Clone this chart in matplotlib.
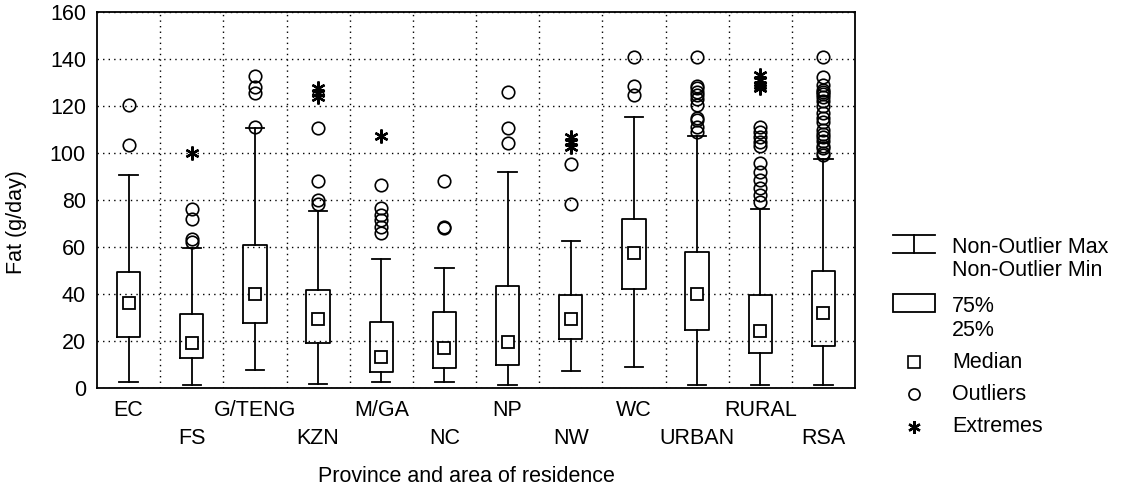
import numpy as np
import matplotlib
matplotlib.use('Agg')
import matplotlib.pyplot as plt
from matplotlib.patches import Rectangle
from matplotlib.lines import Line2D

plt.rcParams['font.family'] = ['Liberation Sans', 'DejaVu Sans']

# Fat intake (g/day) by province and area of residence
groups = ['EC', 'FS', 'G/TENG', 'KZN', 'M/GA', 'NC', 'NP', 'NW', 'WC', 'URBAN', 'RURAL', 'RSA']
whis_lo = [2.7, 1.3, 7.7, 1.7, 2.7, 2.7, 1.3, 7.2, 9.1, 1.3, 1.3, 1.3]
q1 = [21.8, 12.6, 27.8, 19.0, 6.9, 8.6, 9.8, 20.7, 42.0, 24.7, 14.8, 17.9]
median = [36.0, 19.0, 40.0, 29.2, 13.3, 16.9, 19.7, 29.2, 57.3, 40.0, 24.3, 32.0]
q3 = [49.2, 31.5, 60.9, 41.7, 28.0, 32.2, 43.5, 39.7, 71.8, 57.7, 39.7, 49.9]
whis_hi = [90.8, 59.4, 110.8, 75.3, 54.8, 50.9, 92.0, 62.7, 115.2, 107.2, 76.0, 97.3]

outliers = [
    [120.4, 103.3],
    [76.2, 71.8, 63.3, 62.3],
    [132.8, 128.0, 125.4, 111.1],
    [110.6, 88.1, 80.0, 78.3],
    [86.4, 76.5, 73.6, 71.5, 68.6, 66.1],
    [88.1, 68.6, 67.9],
    [126.1, 110.8, 104.4],
    [95.3, 78.3],
    [141.0, 128.5, 124.7],
    [141.0, 128.5, 127.5, 126.0, 124.5, 123.0, 120.5, 115.0, 114.0, 111.0, 109.0],
    [111.2, 109.1, 107.0, 104.5, 103.0, 95.6, 92.0, 88.5, 85.0, 82.1, 79.3],
    [141.0, 132.5, 129.0, 127.0, 126.0, 125.0, 124.0, 122.0, 120.0, 117.0,
     115.0, 113.0, 110.0, 108.0, 107.0, 105.0, 103.0, 102.0, 100.0, 99.0],
]
extremes = [
    [], [100.1], [], [127.5, 125.5, 124.0], [107.2], [], [], [107.0, 104.5, 102.5],
    [], [], [133.0, 131.0, 129.0, 127.5], [],
]

yticks = [0, 20, 40, 60, 80, 100, 120, 140, 160]
fs = 15.5

fig = plt.figure(figsize=(11.34, 4.91), dpi=100)
ax = fig.add_axes([97 / 1134, 103 / 491, 758 / 1134, 376 / 491])

pos = np.arange(len(groups))
stats = [dict(med=m, q1=a, q3=b, whislo=lo, whishi=hi, fliers=[])
         for m, a, b, lo, hi in zip(median, q1, q3, whis_lo, whis_hi)]
line_kw = dict(color='black', linewidth=1.3)
ax.bxp(stats, positions=pos, widths=0.37, capwidths=0.29, showfliers=False,
       boxprops=line_kw, whiskerprops=line_kw, capprops=line_kw,
       medianprops=dict(linewidth=0), manage_ticks=False, zorder=3)

ax.plot(pos, median, 's', ms=9, mfc='white', mec='black', mew=1.3, zorder=4)
for i, vals in enumerate(outliers):
    ax.plot([pos[i]] * len(vals), vals, 'o', ms=9, mfc='none', mec='black', mew=1.2, zorder=4)
for i, vals in enumerate(extremes):
    if vals:
        ax.plot([pos[i]] * len(vals), vals, marker=(6, 2, 0), ls='none', ms=10,
                color='black', mew=1.7, zorder=4)

ax.set_xlim(-0.5, len(groups) - 0.5)
ax.set_ylim(0, 160)
ax.set_yticks(yticks)

# two staggered rows of category labels
ax.set_xticks(pos[::2], groups[::2])
ax.set_xticks(pos[1::2], groups[1::2], minor=True)
ax.tick_params(axis='x', which='major', length=0, pad=9, labelsize=fs)
ax.tick_params(axis='x', which='minor', length=0, pad=29, labelsize=fs)
ax.tick_params(axis='y', length=0, pad=8, labelsize=fs)

ax.grid(axis='y', color='black', linestyle=(0, (1, 3)), linewidth=1)
for b in pos[:-1] + 0.5:
    ax.axvline(b, color='black', linestyle=(0, (1, 3)), linewidth=1, zorder=1)
ax.set_axisbelow(True)
for sp in ax.spines.values():
    sp.set_linewidth(1.3)

ax.set_ylabel('Fat (g/day)', fontsize=fs)
ax.yaxis.set_label_coords(-0.092, 0.44)
ax.set_xlabel('Province and area of residence', fontsize=fs)
ax.xaxis.set_label_coords(0.487, -0.207)

# legend drawn in pixel coordinates
lax = fig.add_axes([0, 0, 1, 1])
lax.set_xlim(0, 1134)
lax.set_ylim(491, 0)
lax.axis('off')
lax.patch.set_visible(False)
lk = dict(color='black', linewidth=1.3)
lax.add_line(Line2D([893, 935], [235, 235], **lk))
lax.add_line(Line2D([893, 935], [253, 253], **lk))
lax.add_line(Line2D([914, 914], [235, 253], **lk))
lax.add_patch(Rectangle((893, 294), 42, 18, fill=False, **lk))
lax.plot([914], [362], 's', ms=8, mfc='white', mec='black', mew=1.2)
lax.plot([914], [394], 'o', ms=8, mfc='none', mec='black', mew=1.2)
lax.plot([914], [427], marker=(6, 2, 0), ms=9, color='black', mew=1.7)
tx = 952
for label, y in [('Non-Outlier Max', 247), ('Non-Outlier Min', 271), ('75%', 306),
                 ('25%', 331), ('Median', 362), ('Outliers', 394), ('Extremes', 427)]:
    lax.text(tx, y, label, fontsize=fs, va='center', ha='left')

fig.savefig('out.png', dpi=100)
